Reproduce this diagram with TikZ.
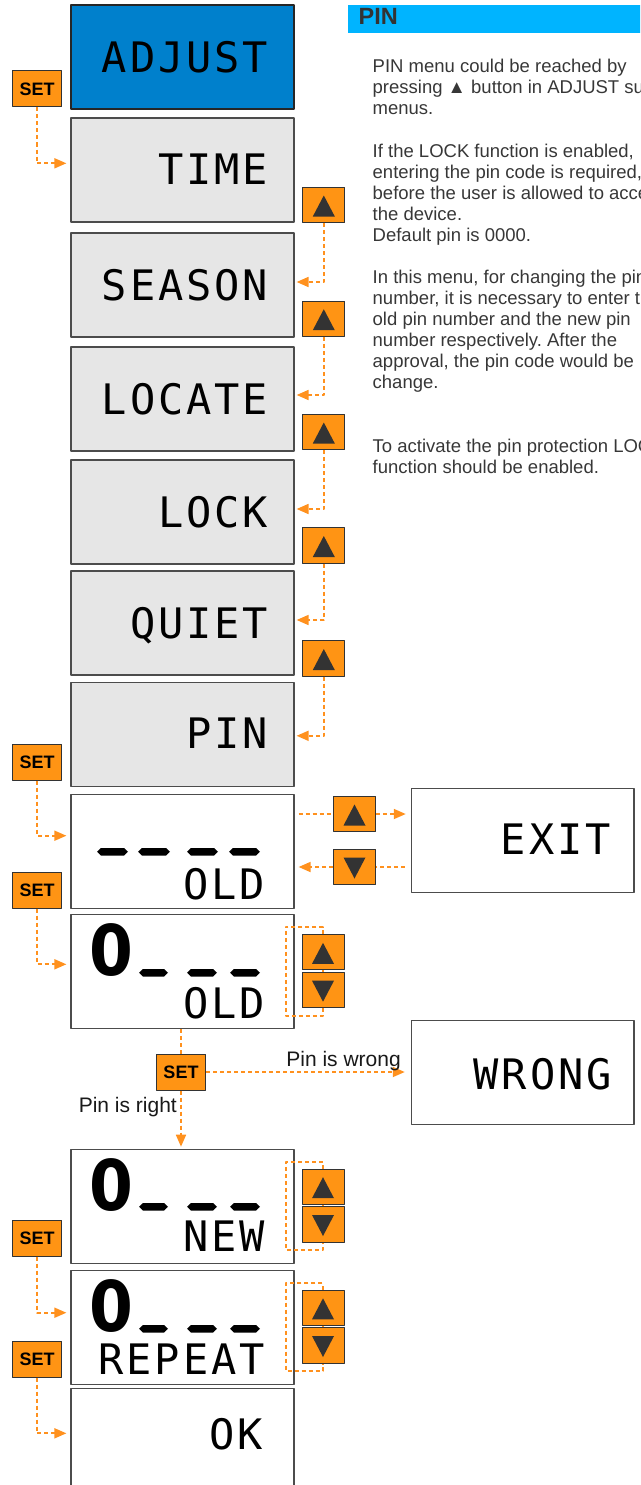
\documentclass[tikz,border=0pt]{standalone}
\usepackage{fontspec}
\setmainfont{Liberation Sans}
\newfontfamily\lcdfont{DejaVu Sans Mono}[LetterSpace=7]
\newfontfamily\digfont{DejaVu Sans}
\usetikzlibrary{arrows.meta,calc}
\frenchspacing
\definecolor{btnorange}{RGB}{255,148,20}
\definecolor{lineorange}{RGB}{255,145,30}
\definecolor{adjblue}{RGB}{0,128,204}
\definecolor{headblue}{RGB}{0,180,255}
\definecolor{lcdgray}{RGB}{230,230,230}
\definecolor{darkgraytri}{RGB}{51,51,51}
\definecolor{textgray}{RGB}{55,55,55}
\newcommand\lcdbar[3]{\fill[black] (#1,#3+3.75) -- (#1+4,#3) -- (#2-4,#3) -- (#2,#3+3.75) -- (#2-4,#3+7.5) -- (#1+4,#3+7.5) -- cycle;}
\tikzset{
  lcdbox/.style={draw=black!70, line width=1.2, inner sep=0, minimum width=223, minimum height=104, fill=lcdgray},
  lcdtall/.style={lcdbox, fill=white, minimum height=114},
  lcdtext/.style={inner sep=0, anchor=base east, font=\lcdfont\fontsize{42}{42}\selectfont},
  digit/.style={inner sep=0, anchor=base west, xscale=0.9, font=\digfont\bfseries\fontsize{70}{70}\selectfont},
  setbtn/.style={draw=darkgraytri, line width=1, fill=btnorange, minimum width=49, minimum height=36, inner sep=0, font=\bfseries\fontsize{18}{18}\selectfont},
  btn/.style={draw=darkgraytri, line width=1, fill=btnorange, minimum width=42, minimum height=35.3, inner sep=0},
  upbtn/.style={btn, path picture={\fill[darkgraytri] ($(path picture bounding box.center)+(0,-9.5)$) -- ++(11,21) -- ++(-22,0) -- cycle;}},
  downbtn/.style={btn, path picture={\fill[darkgraytri] ($(path picture bounding box.center)+(0,11.5)$) -- ++(11,-21) -- ++(-22,0) -- cycle;}},
  flow/.style={draw=lineorange, line width=1.7, dash pattern=on 4pt off 3pt},
  flowarrow/.style={flow, -{Triangle[length=12pt,width=10pt]}},
  desc/.style={inner sep=0, anchor=base west, text=textgray, font=\fontsize{18.5}{21}\selectfont},
  lbl/.style={inner sep=0, anchor=base east, text=black!90, font=\fontsize{21}{21}\selectfont}
}
\begin{document}
\begin{tikzpicture}[x=1pt,y=-1pt,line join=round]
\useasboundingbox (0,0) rectangle (640,1485);
\clip (0,0) rectangle (640,1485);
% header and description
\node[fill=headblue, minimum width=300, minimum height=28.3, inner sep=0, anchor=north west] (header) at (348,5) {};
\node[font=\bfseries\fontsize{23.5}{23.5}\selectfont, text=darkgraytri, anchor=base west, inner sep=0] (hpin) at (358.5,25) {PIN};
\foreach \i/\t in {0/{PIN menu could be reached by},1/{pressing ▲ button in ADJUST sub},2/{menus.},4/{If the LOCK function is enabled,},5/{entering the pin code is required,},6/{before the user is allowed to access},7/{the device.},8/{Default pin is 0000.},10/{In this menu, for changing the pin},11/{number, it is necessary to enter the},12/{old pin number and the new pin},13/{number respectively. After the},14/{approval, the pin code would be},15/{change.},18/{To activate the pin protection LOCK},19/{function should be enabled.}}
  \node[desc] (d\i) at (372.5,72.7+21.08*\i) {\t};
% menu boxes
\node[lcdbox, fill=adjblue, draw=black!85] (adjust) at (182.5,57) {};
\node[lcdtext] (tadjust) at (268.5,73) {ADJUST};
\node[lcdbox] (time) at (182.5,170) {};
\node[lcdtext] (ttime) at (268.5,184) {TIME};
\node[lcdbox] (season) at (182.5,285) {};
\node[lcdtext] (tseason) at (268.5,300) {SEASON};
\node[lcdbox] (locate) at (182.5,399) {};
\node[lcdtext] (tlocate) at (268.5,414) {LOCATE};
\node[lcdbox] (lock) at (182.5,512) {};
\node[lcdtext] (tlock) at (268.5,527) {LOCK};
\node[lcdbox] (quiet) at (182.5,623) {};
\node[lcdtext] (tquiet) at (268.5,638) {QUIET};
\node[lcdbox] (pin) at (182.5,734.8) {};
\node[lcdtext] (tpin) at (268.5,748.3) {PIN};
% pin entry boxes
\node[lcdtall] (old1) at (182.5,851.2) {};
\node[lcdtext] (told1) at (265,899.3) {OLD};
\lcdbar{97}{128}{848}\lcdbar{138}{170}{848}\lcdbar{187}{218}{848}\lcdbar{229}{260}{848}
\node[lcdtall] (old2) at (182.5,971.5) {};
\node[digit] (dold2) at (89.5,975.5) {0};
\node[lcdtext] (told2) at (265,1018.3) {OLD};
\lcdbar{139}{168}{969}\lcdbar{187}{217}{969}\lcdbar{230}{260}{969}
\node[lcdtall] (new) at (182.5,1206.3) {};
\node[digit] (dnew) at (89.5,1210.5) {0};
\node[lcdtext] (tnew) at (265,1251.7) {NEW};
\lcdbar{139}{168}{1203}\lcdbar{187}{217}{1203}\lcdbar{230}{260}{1203}
\node[lcdtall] (repeat) at (182.5,1327.2) {};
\node[digit] (drepeat) at (89.5,1331.5) {0};
\node[lcdtext] (trepeat) at (265,1374) {REPEAT};
\lcdbar{139}{168}{1325}\lcdbar{187}{217}{1325}\lcdbar{230}{260}{1325}
\node[lcdtall, minimum height=112] (ok) at (182.5,1444.7) {};
\node[lcdtext] (tok) at (263,1449.3) {OK};
\node[lcdbox, fill=white, minimum width=222.7] (exit) at (522.7,840.2) {};
\node[lcdtext] (texit) at (611,854) {EXIT};
\node[lcdbox, fill=white, minimum width=222.7] (wrong) at (522.7,1072.5) {};
\node[lcdtext] (twrong) at (612,1089.3) {WRONG};
% SET buttons
\node[setbtn] (set1) at (37.2,89) {SET};
\node[setbtn] (set2) at (37.2,762) {SET};
\node[setbtn] (set3) at (37.2,890.2) {SET};
\node[setbtn] (set4) at (181,1072) {SET};
\node[setbtn] (set5) at (37.2,1238) {SET};
\node[setbtn] (set6) at (37.2,1359) {SET};
% up and down buttons
\node[upbtn] (up1) at (323.8,205) {};
\node[upbtn] (up2) at (323.8,318.7) {};
\node[upbtn] (up3) at (323.8,432) {};
\node[upbtn] (up4) at (323.8,545.5) {};
\node[upbtn] (up5) at (323.8,658.5) {};
\node[upbtn] (up6) at (354.5,814) {};
\node[downbtn] (down6) at (354.5,867) {};
\node[upbtn] (up7) at (323,952.3) {};
\node[downbtn] (down7) at (323,990.2) {};
\node[upbtn] (up8) at (323,1186.7) {};
\node[downbtn] (down8) at (323,1224.5) {};
\node[upbtn] (up9) at (323,1307.8) {};
\node[downbtn] (down9) at (323,1345.5) {};
% connectors
\draw[flowarrow] (set1.south) |- ([shift={(-4,-6.7)}]time.west);
\draw[flowarrow] (up1.south) |- ([shift={(2,-3)}]season.east);
\draw[flowarrow] (up2.south) |- ([shift={(2,-4)}]locate.east);
\draw[flowarrow] (up3.south) |- ([shift={(2,-3)}]lock.east);
\draw[flowarrow] (up4.south) |- ([shift={(2,-3)}]quiet.east);
\draw[flowarrow] (up5.south) |- ([shift={(2,1)}]pin.east);
\draw[flowarrow] (set2.south) |- ([shift={(-4,-15.5)}]old1.west);
\draw[flow] ($(old1.east |- up6.west)+(4,0)$) -- (up6.west);
\draw[flowarrow] (up6.east) -- ($(exit.west |- up6.east)+(-5,0)$);
\draw[flow] ($(exit.west |- down6.east)+(-6,0)$) -- (down6.east);
\draw[flowarrow] (down6.west) -- ($(old1.east |- down6.west)+(4,0)$);
\draw[flowarrow] (set3.south) |- ([shift={(-4,-7.2)}]old2.west);
\coordinate (b7a) at (285.7,926.7);
\coordinate (b7b) at (285.7,1015.7);
\draw[flow] (up7.north) |- (b7a) -- (b7b) -| (down7.south);
\draw[flow] (up7.south) -- (down7.north);
\draw[flow] (set4.north |- old2.south) -- (set4.north);
\draw[flowarrow] (set4.east) -- ($(wrong.west |- set4.east)+(-6,0)$);
\node[lbl] (lwrong) at (401,1066) {Pin is wrong};
\draw[flowarrow] (set4.south) -- ($(set4.south |- new.north)+(0,-2)$);
\node[lbl] (lright) at (177,1112) {Pin is right};
\coordinate (b8a) at (285.7,1162);
\coordinate (b8b) at (285.7,1250);
\draw[flow] (up8.north) |- (b8a) -- (b8b) -| (down8.south);
\draw[flow] (up8.south) -- (down8.north);
\draw[flowarrow] (set5.south) |- ([shift={(-4,-14.5)}]repeat.west);
\coordinate (b9a) at (285.7,1283.3);
\coordinate (b9b) at (285.7,1370.7);
\draw[flow] (up9.north) |- (b9a) -- (b9b) -| (down9.south);
\draw[flow] (up9.south) -- (down9.north);
\draw[flowarrow] (set6.south) |- ([shift={(-4,-11.4)}]ok.west);
\end{tikzpicture}
\end{document}
